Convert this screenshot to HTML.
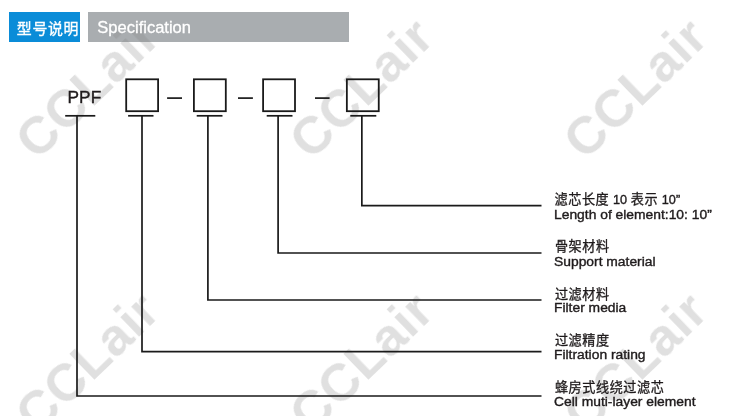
<!DOCTYPE html>
<html><head><meta charset="utf-8"><title>Specification</title>
<style>
html,body{margin:0;padding:0;background:#fff;}
body{width:750px;height:416px;overflow:hidden;font-family:"Liberation Sans",sans-serif;}
svg{display:block;font-family:"Liberation Sans",sans-serif;}
</style></head>
<body>
<svg width="750" height="416" viewBox="0 0 750 416">
<rect width="750" height="416" fill="#fff"/>
<rect x="9" y="12" width="71" height="30" fill="#0a8cd8"/>
<rect x="88" y="12" width="261" height="30" fill="#a9adb0"/>
<g opacity="0.25" fill="#808080" font-family="'Liberation Sans', sans-serif" font-weight="bold" font-size="52">
<text transform="translate(584.9 161.3) rotate(-44)" textLength="174" lengthAdjust="spacing">CCLair</text>
<text transform="translate(310.9 161.3) rotate(-44)" textLength="174" lengthAdjust="spacing">CCLair</text>
<text transform="translate(36.9 161.3) rotate(-44)" textLength="174" lengthAdjust="spacing">CCLair</text>
<text transform="translate(584.9 435.3) rotate(-44)" textLength="174" lengthAdjust="spacing">CCLair</text>
<text transform="translate(310.9 435.3) rotate(-44)" textLength="174" lengthAdjust="spacing">CCLair</text>
<text transform="translate(36.9 435.3) rotate(-44)" textLength="174" lengthAdjust="spacing">CCLair</text>
</g>
<text x="16.8" y="34.2" font-family="'Liberation Sans', 'Noto Sans CJK SC', sans-serif" font-size="14.9" letter-spacing="0.7" fill="#fff" stroke="#fff" stroke-width="0.35">型号说明</text>
<text transform="translate(97.30 32.60) scale(1.02 1)" font-size="16.2" fill="#fff" stroke="#fff" stroke-width="0.3">Specification</text>
<text transform="translate(67.60 102.60) scale(1.08 1)" font-size="16" fill="#1f1b1c" stroke="#1f1b1c" stroke-width="0.35">PPF</text>
<rect x="126.2" y="79.3" width="31.9" height="31.9" fill="none" stroke="#1a1a1a" stroke-width="1.8"/>
<rect x="193.9" y="79.3" width="31.9" height="31.9" fill="none" stroke="#1a1a1a" stroke-width="1.8"/>
<rect x="263.1" y="79.3" width="31.9" height="31.9" fill="none" stroke="#1a1a1a" stroke-width="1.8"/>
<rect x="346.85" y="79.3" width="31.9" height="31.9" fill="none" stroke="#1a1a1a" stroke-width="1.8"/>
<line x1="167.1" y1="98.1" x2="182.0" y2="98.1" stroke="#1a1a1a" stroke-width="1.7"/>
<line x1="238" y1="98.1" x2="252.9" y2="98.1" stroke="#1a1a1a" stroke-width="1.7"/>
<line x1="315" y1="98.1" x2="329.6" y2="98.1" stroke="#1a1a1a" stroke-width="1.7"/>
<line x1="65.2" y1="115.8" x2="95.3" y2="115.8" stroke="#1a1a1a" stroke-width="1.7"/>
<line x1="128.1" y1="115.8" x2="153.5" y2="115.8" stroke="#1a1a1a" stroke-width="1.7"/>
<line x1="196.7" y1="115.8" x2="222.5" y2="115.8" stroke="#1a1a1a" stroke-width="1.7"/>
<line x1="266.7" y1="115.8" x2="292.5" y2="115.8" stroke="#1a1a1a" stroke-width="1.7"/>
<line x1="350.3" y1="115.8" x2="376.3" y2="115.8" stroke="#1a1a1a" stroke-width="1.7"/>
<polyline points="77.0,115.8 77.0,396.0 541.5,396.0" fill="none" stroke="#1a1a1a" stroke-width="1.7"/>
<polyline points="142.0,115.8 142.0,351.6 541.5,351.6" fill="none" stroke="#1a1a1a" stroke-width="1.7"/>
<polyline points="207.9,115.8 207.9,300.0 541.5,300.0" fill="none" stroke="#1a1a1a" stroke-width="1.7"/>
<polyline points="278.1,115.8 278.1,253.0 541.5,253.0" fill="none" stroke="#1a1a1a" stroke-width="1.7"/>
<polyline points="361.85,115.8 361.85,205.6 541.5,205.6" fill="none" stroke="#1a1a1a" stroke-width="1.7"/>
<text x="554.5" y="203.8" font-family="'Liberation Sans', 'Noto Sans CJK SC', sans-serif" font-size="13.1" letter-spacing="0.6" fill="#1f1b1c" stroke="#1f1b1c" stroke-width="0.3">滤芯长度</text>
<text transform="translate(613.00 203.60) scale(0.95 1)" font-size="13.33" fill="#1f1b1c" stroke="#1f1b1c" stroke-width="0.38">10</text>
<text x="630.7" y="203.8" font-family="'Liberation Sans', 'Noto Sans CJK SC', sans-serif" font-size="13.1" letter-spacing="0.6" fill="#1f1b1c" stroke="#1f1b1c" stroke-width="0.3">表示</text>
<text transform="translate(661.80 203.60) scale(0.95 1)" font-size="13.33" fill="#1f1b1c" stroke="#1f1b1c" stroke-width="0.38">10”</text>
<text transform="translate(554.00 218.90) scale(1.04 1)" font-size="13.33" fill="#1f1b1c" stroke="#1f1b1c" stroke-width="0.38">Length of element:10: 10”</text>
<text x="554.9" y="250.8" font-family="'Liberation Sans', 'Noto Sans CJK SC', sans-serif" font-size="13.1" letter-spacing="0.6" fill="#1f1b1c" stroke="#1f1b1c" stroke-width="0.3">骨架材料</text>
<text transform="translate(554.00 265.80) scale(1.04 1)" font-size="13.33" fill="#1f1b1c" stroke="#1f1b1c" stroke-width="0.38">Support material</text>
<text x="554.9" y="298.8" font-family="'Liberation Sans', 'Noto Sans CJK SC', sans-serif" font-size="13.1" letter-spacing="0.6" fill="#1f1b1c" stroke="#1f1b1c" stroke-width="0.3">过滤材料</text>
<text transform="translate(554.00 312.20) scale(1.04 1)" font-size="13.33" fill="#1f1b1c" stroke="#1f1b1c" stroke-width="0.38">Filter media</text>
<text x="554.9" y="345.2" font-family="'Liberation Sans', 'Noto Sans CJK SC', sans-serif" font-size="13.1" letter-spacing="0.6" fill="#1f1b1c" stroke="#1f1b1c" stroke-width="0.3">过滤精度</text>
<text transform="translate(554.00 358.60) scale(1.04 1)" font-size="13.33" fill="#1f1b1c" stroke="#1f1b1c" stroke-width="0.38">Filtration rating</text>
<text x="554.9" y="391.7" font-family="'Liberation Sans', 'Noto Sans CJK SC', sans-serif" font-size="13.1" letter-spacing="0.6" fill="#1f1b1c" stroke="#1f1b1c" stroke-width="0.3">蜂房式线绕过滤芯</text>
<text transform="translate(554.00 405.50) scale(1.04 1)" font-size="13.33" fill="#1f1b1c" stroke="#1f1b1c" stroke-width="0.38">Cell muti-layer element</text>
</svg>
</body></html>
